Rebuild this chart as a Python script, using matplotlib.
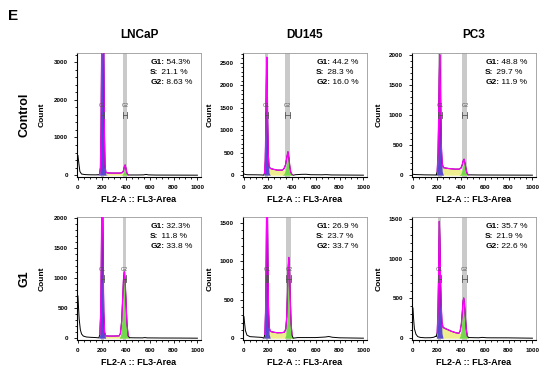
import numpy as np
from matplotlib import pyplot as plt
from matplotlib import transforms
from matplotlib.ticker import MultipleLocator, AutoMinorLocator

plt.rcParams['font.family'] = ['Liberation Sans', 'DejaVu Sans']

# Cell cycle histograms (FlowJo Watson model)
cell_lines = ["LNCaP", "DU145", "PC3"]
conditions = ["Control", "G1"]
x_label = "FL2-A :: FL3-Area"
phases = ["G1:", "S:", "G2:"]

# ---- LNCaP control ----
lncap_ctrl_ch = [0, 8, 16, 30, 60, 100, 150, 180, 188, 193, 198, 203, 207, 211, 216, 221, 226, 234,
                 250, 300, 350, 370, 380, 388, 395, 402, 410, 420, 440, 500, 550, 570, 590, 650, 800, 1000]
lncap_ctrl_g1 = [0] * 7 + [10, 200, 1200, 3200, 5000, 5600, 5000, 3200, 1200, 200, 10] + [0] * 18
lncap_ctrl_s = [0] * 9 + [10, 30, 50, 60, 65, 65, 65, 65, 62, 58, 55, 55, 55, 50, 40, 30, 15, 5] + [0] * 9
lncap_ctrl_g2 = [0] * 21 + [10, 60, 180, 240, 160, 50, 8] + [0] * 8
lncap_ctrl_debris = [520, 300, 100, 30, 15, 10, 8, 5] + [0] * 20 + [5, 5, 8, 20, 8, 3, 2, 0]
lncap_ctrl_gates = [(195, 220), (378, 408)]
lncap_ctrl_pct = ["54.3%", "21.1 %", "8.63 %"]

# ---- DU145 control ----
du145_ctrl_ch = [0, 10, 30, 100, 150, 165, 172, 178, 183, 187, 191, 195, 199, 204, 210, 220, 240, 280,
                 320, 335, 348, 358, 368, 376, 384, 392, 402, 415, 430, 480, 520, 560, 650, 690, 730, 850, 1000]
du145_ctrl_g1 = [0] * 5 + [0, 40, 300, 1000, 1900, 2520, 1900, 1000, 300, 50, 0] + [0] * 21
du145_ctrl_s = [0] * 6 + [5, 20, 45, 80, 100, 120, 140, 150, 155, 150, 135, 112, 112, 115, 110, 100,
                          80, 60, 35, 15, 5, 0] + [0] * 9
du145_ctrl_g2 = [0] * 19 + [30, 120, 280, 440, 330, 160, 50, 10, 0] + [0] * 9
du145_ctrl_debris = [30, 15, 10, 8, 5] + [0] * 23 + [10, 18, 20, 10, 8, 12, 5, 3, 0]
du145_ctrl_gates = [(177, 202), (347, 383)]
du145_ctrl_pct = ["44.2 %", "28.3 %", "16.0 %"]

# ---- PC3 control ----
pc3_ctrl_ch = [0, 20, 100, 190, 195, 203, 210, 215, 220, 224, 228, 233, 238, 245, 255, 300, 350,
               385, 400, 412, 420, 428, 436, 444, 452, 462, 475, 550, 1000]
pc3_ctrl_g1 = [0] * 4 + [0, 60, 350, 900, 1550, 1900, 1550, 900, 350, 60, 0] + [0] * 14
pc3_ctrl_s = [0] * 5 + [5, 20, 40, 70, 100, 115, 122, 127, 130, 125, 110, 100, 100, 92, 80, 65,
                        45, 28, 15, 7, 2] + [0] * 3
pc3_ctrl_g2 = [0] * 18 + [20, 90, 170, 220, 170, 90, 30, 5] + [0] * 3
pc3_ctrl_debris = [15, 10, 5, 3] + [0] * 22 + [5, 3, 0]
pc3_ctrl_gates = [(212, 240), (412, 456)]
pc3_ctrl_pct = ["48.8 %", "29.7 %", "11.9 %"]

# ---- LNCaP G1 ----
lncap_g1_ch = [0, 5, 10, 20, 30, 45, 70, 100, 150, 175, 183, 190, 195, 199, 203, 207, 211, 216, 223, 232,
               260, 300, 345, 355, 366, 374, 381, 388, 395, 402, 410, 420, 432, 470, 540, 560, 580, 700, 850, 1000]
lncap_g1_g1 = [0] * 9 + [0, 60, 400, 1200, 2100, 2600, 2100, 1200, 400, 60, 0] + [0] * 20
lncap_g1_s = [0] * 11 + [5, 12, 20, 28, 35, 38, 40, 40, 38, 35, 35, 38, 37, 32, 27, 20, 15, 10, 5, 2, 0] + [0] * 8
lncap_g1_g2 = [0] * 23 + [40, 250, 620, 950, 1085, 950, 620, 250, 40, 0] + [0] * 7
lncap_g1_debris = [700, 500, 320, 140, 70, 35, 20, 15, 10, 5] + [0] * 22 + [8, 6, 5, 10, 5, 3, 2, 0]
lncap_g1_gates = [(195, 218), (377, 405)]
lncap_g1_pct = ["32.3%", "11.8 %", "33.8 %"]

# ---- DU145 G1 ----
du145_g1_ch = [0, 5, 12, 25, 50, 100, 150, 167, 175, 181, 186, 190, 193, 196, 200, 205, 211, 220, 240,
               280, 320, 340, 350, 358, 364, 370, 376, 382, 388, 394, 402, 412, 450, 600, 680, 710, 740, 800, 1000]
du145_g1_g1 = [0] * 7 + [0, 50, 350, 1000, 1750, 2100, 1750, 1000, 350, 50, 0] + [0] * 21
du145_g1_s = [0] * 9 + [10, 25, 40, 55, 70, 82, 90, 92, 90, 80, 70, 72, 80, 82, 78, 70, 55, 40, 25,
                        15, 8, 3, 0] + [0] * 7
du145_g1_g2 = [0] * 22 + [40, 200, 500, 850, 1010, 850, 500, 200, 40, 0] + [0] * 7
du145_g1_debris = [280, 200, 100, 40, 20, 15, 10] + [0] * 25 + [8, 8, 15, 22, 12, 5, 0]
du145_g1_gates = [(182, 205), (355, 395)]
du145_g1_pct = ["26.9 %", "23.7 %", "33.7 %"]

# ---- PC3 G1 ----
pc3_g1_ch = [0, 5, 12, 25, 40, 60, 100, 150, 175, 190, 195, 203, 209, 214, 218, 221, 225, 230, 236, 243,
             252, 280, 320, 360, 385, 395, 405, 413, 420, 425, 431, 438, 446, 455, 465, 550, 580, 620, 800, 1000]
pc3_g1_g1 = [0] * 10 + [0, 60, 300, 700, 1150, 1370, 1150, 700, 300, 60, 0] + [0] * 19
pc3_g1_s = [0] * 11 + [5, 25, 50, 75, 100, 115, 130, 138, 140, 135, 115, 88, 68, 62, 60, 57, 50, 40,
                       30, 20, 12, 6, 2, 0] + [0] * 5
pc3_g1_g2 = [0] * 25 + [30, 120, 280, 430, 475, 420, 270, 110, 25, 0] + [0] * 5
pc3_g1_debris = [380, 250, 120, 50, 20, 10, 5, 6, 12, 25, 20, 10] + [0] * 22 + [8, 5, 10, 5, 4, 0]
pc3_g1_gates = [(208, 236), (408, 453)]
pc3_g1_pct = ["35.7 %", "21.9 %", "22.6 %"]

# axis tops / major y step per panel
y_tops = [[3240, 2715, 2030], [2010, 1575, 1525]]
y_steps = [[1000, 500, 500], [500, 500, 500]]

panels = [
    [(lncap_ctrl_ch, lncap_ctrl_g1, lncap_ctrl_s, lncap_ctrl_g2, lncap_ctrl_debris, lncap_ctrl_gates, lncap_ctrl_pct),
     (du145_ctrl_ch, du145_ctrl_g1, du145_ctrl_s, du145_ctrl_g2, du145_ctrl_debris, du145_ctrl_gates, du145_ctrl_pct),
     (pc3_ctrl_ch, pc3_ctrl_g1, pc3_ctrl_s, pc3_ctrl_g2, pc3_ctrl_debris, pc3_ctrl_gates, pc3_ctrl_pct)],
    [(lncap_g1_ch, lncap_g1_g1, lncap_g1_s, lncap_g1_g2, lncap_g1_debris, lncap_g1_gates, lncap_g1_pct),
     (du145_g1_ch, du145_g1_g1, du145_g1_s, du145_g1_g2, du145_g1_debris, du145_g1_gates, du145_g1_pct),
     (pc3_g1_ch, pc3_g1_g1, pc3_g1_s, pc3_g1_g2, pc3_g1_debris, pc3_g1_gates, pc3_g1_pct)],
]


def draw_panel(ax, data, ytop, ystep):
    ch, g1, s, g2, debris, gates, pct = data
    ch = np.array(ch, dtype=float)
    g1, s, g2, debris = (np.array(a, dtype=float) for a in (g1, s, g2, debris))
    fit = g1 + s + g2
    raw = fit + debris

    for lo, hi in gates:
        ax.axvspan(lo, hi, color="#cacaca", lw=0, zorder=0)
    ax.fill_between(ch, 0, s, color="#eeee90", lw=0, zorder=1)
    ax.fill_between(ch, 0, g1, color="#4a3ad4", alpha=0.9, lw=0, zorder=2)
    ax.fill_between(ch, 0, g2, color="#74d84c", lw=0, zorder=2)
    ax.plot(ch, raw, color="black", lw=0.7, zorder=3)
    ax.plot(ch, np.ma.masked_where(fit <= 0, fit), color="#ff00ff", lw=0.9, zorder=4)

    # gate brackets with labels
    trans = transforms.blended_transform_factory(ax.transData, ax.transAxes)
    for name, (lo, hi) in zip(["G1", "G2"], gates):
        kw = dict(transform=trans, color="#555555", lw=0.6, zorder=5)
        ax.plot([lo, hi], [0.5, 0.5], **kw)
        ax.plot([lo, lo], [0.475, 0.525], **kw)
        ax.plot([hi, hi], [0.475, 0.525], **kw)
        ax.text((lo + hi) / 2, 0.575, name, transform=trans, fontsize=3.8, rotation=0,
                ha="center", va="center", color="#555555", zorder=5)

    # phase percentages
    for i, (ph, val) in enumerate(zip(phases, pct)):
        t = ax.text(0.59, 0.925 - 0.082 * i, ph, transform=ax.transAxes,
                    fontsize=6, fontweight="bold", va="center", ha="left")
        ax.annotate(" " + val, xy=(1, 0.5), xycoords=t, fontsize=6, va="center", ha="left")

    ax.set_xlim(-8, 1030)
    ax.set_ylim(-0.015 * ytop, ytop)
    ax.xaxis.set_major_locator(MultipleLocator(200))
    ax.xaxis.set_minor_locator(AutoMinorLocator(4))
    ax.yaxis.set_major_locator(MultipleLocator(ystep))
    ax.yaxis.set_minor_locator(AutoMinorLocator(5))
    ax.tick_params(which="both", direction="out", width=0.6, labelsize=4.5)
    ax.tick_params(which="major", length=2.5)
    ax.tick_params(which="minor", length=1.3)
    ax.tick_params(axis="y", pad=4)
    ax.tick_params(axis="x", pad=3)
    for lab in ax.get_xticklabels() + ax.get_yticklabels():
        lab.set_fontweight("bold")
    for sp in ["top", "right"]:
        ax.spines[sp].set_color("#9a9a9a")
        ax.spines[sp].set_linewidth(0.6)
    for sp in ["left", "bottom"]:
        ax.spines[sp].set_linewidth(0.8)

    ax.set_xlabel(x_label, fontsize=6.5, fontweight="bold")
    ax.xaxis.label.set_va("center")
    ax.xaxis.set_label_coords(0.5, -0.185)
    ax.set_ylabel("Count", fontsize=6, fontweight="bold")


W, H = 550, 371
fig = plt.figure(figsize=(5.5, 3.71), dpi=100)

lefts = [77, 243, 412]
tops = [53, 217]
bottoms = [177, 340]
label_x = [0.285, 0.265, 0.265]

for r in range(2):
    for c in range(3):
        ax = fig.add_axes([lefts[c] / W, 1 - bottoms[r] / H, 124 / W, (bottoms[r] - tops[r]) / H])
        draw_panel(ax, panels[r][c], y_tops[r][c], y_steps[r][c])
        ax.yaxis.set_label_coords(-label_x[c], 0.5)
        ax.yaxis.label.set_va("center")

for c, name in enumerate(cell_lines):
    fig.text((lefts[c] + 62) / W, 1 - 35 / H, name, fontsize=8.5, fontweight="bold",
             ha="center", va="center")

for r, name in enumerate(conditions):
    fig.text(25 / W, 1 - (tops[r] + bottoms[r]) / 2 / H, name, fontsize=9, fontweight="bold",
             rotation=90, ha="center", va="center")

fig.text(13 / W, 1 - 16 / H, "E", fontsize=11, fontweight="bold", ha="center", va="center")

plt.savefig("out.png", dpi=100)
